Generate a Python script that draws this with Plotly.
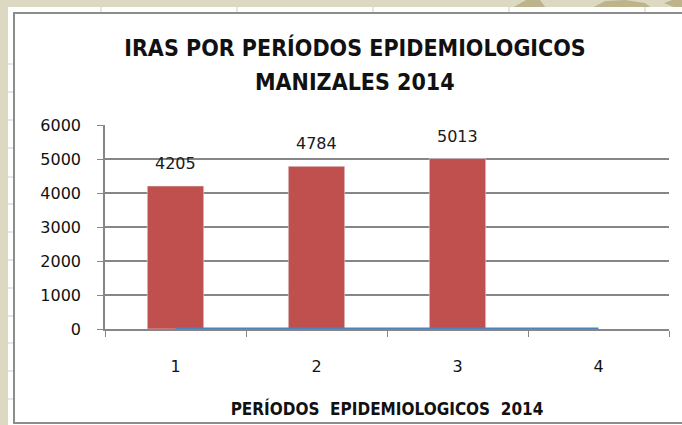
import plotly.graph_objects as go

categories = ["1", "2", "3", "4"]
iras_values = [4205, 4784, 5013, None]
line_values = [0, 0, 0, 0]
y_ticks = [0, 1000, 2000, 3000, 4000, 5000, 6000]
title_lines = ["IRAS POR PERÍODOS EPIDEMIOLOGICOS", "MANIZALES 2014"]
x_title = "PERÍODOS  EPIDEMIOLOGICOS  2014"

W, H = 682, 425
L, R, T, B = 105, 13, 125, 96
pw = W - L - R
ph = H - T - B

def px(x):
    return (x - L) / pw

def py(y):
    return (H - B - y) / ph

def path(points):
    return "M " + " L ".join(f"{px(x):.5f},{py(y):.5f}" for x, y in points) + " Z"

COND = "DejaVu Sans Condensed, DejaVu Sans, sans-serif"
TICKF = "DejaVu Sans, sans-serif"

fig = go.Figure()
fig.add_trace(go.Bar(
    x=categories, y=iras_values, marker_color="#C0504D", width=0.4,
    cliponaxis=False, showlegend=False, hoverinfo="skip",
))
fig.add_trace(go.Scatter(
    x=categories, y=line_values, mode="lines",
    line=dict(color="#4F81BD", width=3), cliponaxis=False, showlegend=False, hoverinfo="skip",
))

annotations = [
    dict(x=i, y=v, xref="x", yref="y", text=str(v), showarrow=False,
         yanchor="bottom", yshift=11, font=dict(family=TICKF, size=16, color="#1A1A1A"))
    for i, v in enumerate(iras_values) if v is not None
]
annotations.append(dict(
    x=px(355), y=py(82), xref="paper", yref="paper", text=title_lines[1], showarrow=False,
    xanchor="center", yanchor="middle",
    font=dict(family=COND, size=23, color="#111111", weight="bold"),
))

BEIGE_DARK = "#BDB48C"
shapes = [
    dict(type="path", xref="paper", yref="paper", layer="below", line=dict(width=0),
         fillcolor=BEIGE_DARK, path=path([(512, 8), (526, 0), (540, 0), (546, 8)])),
    dict(type="path", xref="paper", yref="paper", layer="below", line=dict(width=0),
         fillcolor=BEIGE_DARK, path=path([(592, 8), (605, 1), (625, 0), (645, 3), (652, 8)])),
    dict(type="path", xref="paper", yref="paper", layer="below", line=dict(width=0),
         fillcolor=BEIGE_DARK, path=path([(664, 3), (672, 0), (682, 0), (682, 8), (676, 8)])),
    dict(type="rect", xref="paper", yref="paper", x0=px(8), x1=px(700), y0=py(7), y1=py(430),
         fillcolor="white", line=dict(width=0), layer="below"),
]
for gx in [101, 237, 373, 509, 645]:
    shapes.append(dict(type="line", xref="paper", yref="paper", layer="below",
                       x0=px(gx), x1=px(gx), y0=py(7), y1=py(12),
                       line=dict(color="#C8CDD8", width=1)))
for gy in [64, 92, 120, 148, 177, 204, 232, 260, 288, 316, 343, 371, 399]:
    shapes.append(dict(type="line", xref="paper", yref="paper", layer="below",
                       x0=px(8), x1=px(13), y0=py(gy), y1=py(gy),
                       line=dict(color="#C8CDD8", width=1)))
shapes.append(dict(type="rect", xref="paper", yref="paper", x0=px(14), x1=px(700), y0=py(13), y1=py(423),
                   fillcolor="white", line=dict(color="#8C8C8C", width=2), layer="below"))

fig.update_layout(
    width=W, height=H,
    margin=dict(l=L, r=R, t=T, b=B, autoexpand=False),
    paper_bgcolor="#DDD8C1", plot_bgcolor="rgba(0,0,0,0)",
    shapes=shapes, annotations=annotations,
    title=dict(
        text=title_lines[0],
        x=px(355), xanchor="center", xref="paper", y=1 - 48 / H, yanchor="middle",
        font=dict(family=COND, size=23, color="#111111", weight="bold"),
    ),
    font=dict(family=TICKF, color="#111111"),
)
fig.update_xaxes(
    type="category", tickson="boundaries", ticks="outside", ticklen=6, tickcolor="#868686",
    showline=True, linecolor="#868686", linewidth=1.5, showgrid=False, automargin=False,
    tickfont=dict(size=16, color="#111111"), ticklabelstandoff=22,
    title=dict(text=x_title, standoff=28,
               font=dict(family=COND, size=17, weight="bold", color="#111111")),
)
fig.update_yaxes(
    range=[0, 6000], tickvals=y_ticks, ticks="outside", ticklen=6, tickcolor="#868686",
    showline=True, linecolor="#868686", linewidth=1.5, automargin=False,
    showgrid=True, gridcolor="#868686", gridwidth=1.5, zeroline=False,
    tickfont=dict(size=16, color="#111111"), ticklabelstandoff=13,
)

fig.write_html("out.html", config={"displayModeBar": False},
               post_script="document.body.style.margin='0';document.body.style.overflow='hidden';")
